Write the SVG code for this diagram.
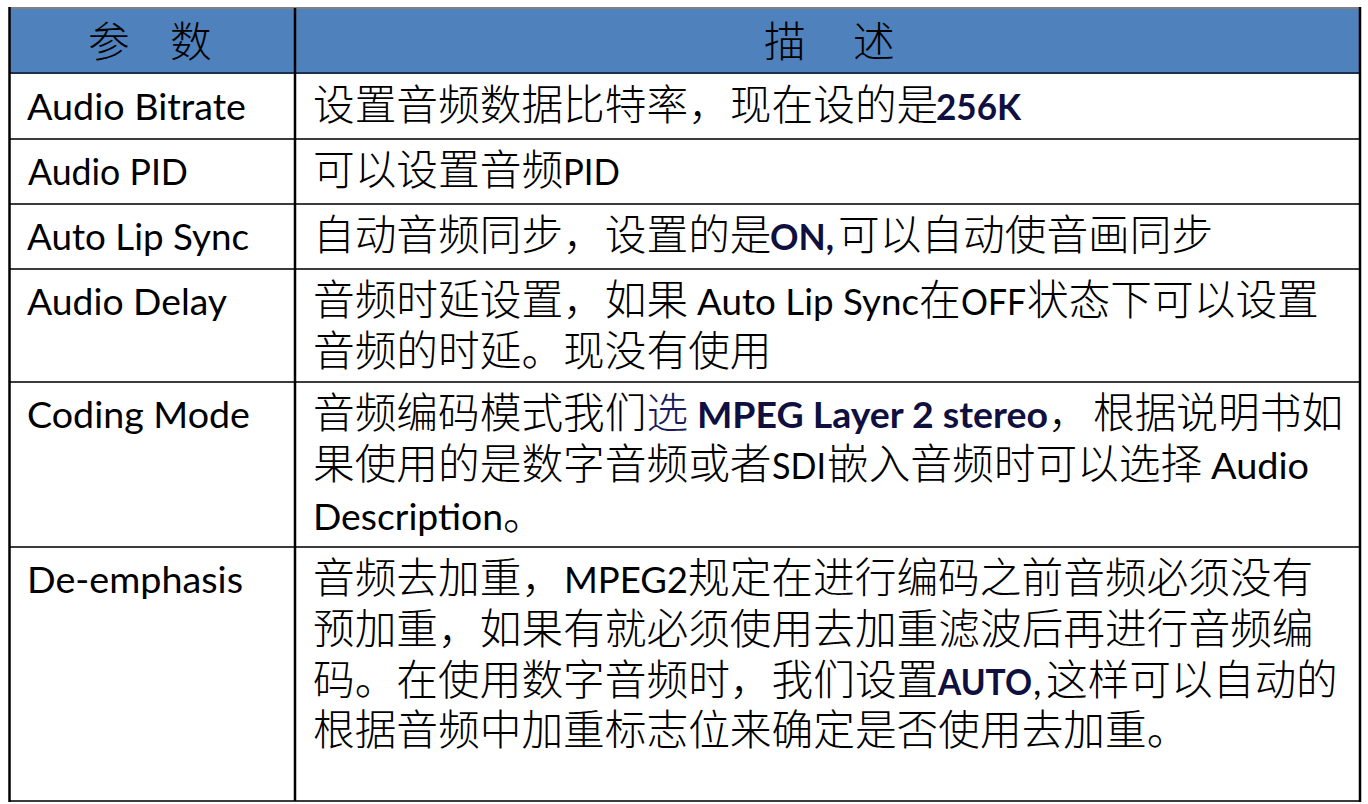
<svg xmlns="http://www.w3.org/2000/svg" width="1368" height="804" viewBox="0 0 1368 804">
<style>
.cjk{font-family:"Noto Sans CJK SC","Noto Sans CJK TC",sans-serif;font-size:41.7px;font-weight:300;fill:#000}
.lat{font-family:Lato,"Liberation Sans","Noto Sans CJK SC",sans-serif;font-size:37px;font-weight:400;fill:#000}
.b{font-weight:700;fill:#0F0F40}
.navy{fill:#1A1A5A}
.h{stroke:#3c3c3c;stroke-width:2}
.v{stroke:#000;stroke-width:2.5}
</style>
<rect width="1368" height="804" fill="#fff"/>
<g id="header">
  <rect x="9" y="8" width="1351" height="65" fill="#4F81BD"/>
  <text class="cjk" y="57"><tspan x="88">参</tspan> <tspan x="170">数</tspan></text>
  <text class="cjk" y="57"><tspan x="764">描</tspan> <tspan x="853">述</tspan></text>
</g>
<g id="row-audio-bitrate">
  <text class="lat" x="27" y="120" textLength="219" lengthAdjust="spacingAndGlyphs">Audio Bitrate</text>
  <text class="cjk" y="120"><tspan x="313">设置音频数据比特率，现在设的是</tspan><tspan x="936" class="lat b" textLength="85" lengthAdjust="spacingAndGlyphs">256K</tspan></text>
</g>
<g id="row-audio-pid">
  <text class="lat" x="28" y="185" textLength="160" lengthAdjust="spacingAndGlyphs">Audio PID</text>
  <text class="cjk" y="185"><tspan x="313">可以设置音频</tspan><tspan x="563" class="lat" textLength="57" lengthAdjust="spacingAndGlyphs">PID</tspan></text>
</g>
<g id="row-auto-lip-sync">
  <text class="lat" x="27" y="250" textLength="222" lengthAdjust="spacingAndGlyphs">Auto Lip Sync</text>
  <text class="cjk" y="250"><tspan x="313">自动音频同步，设置的是</tspan><tspan x="770" class="lat b" textLength="64" lengthAdjust="spacingAndGlyphs">ON,</tspan><tspan x="838">可以自动使音画同步</tspan></text>
</g>
<g id="row-audio-delay">
  <text class="lat" x="27" y="315" textLength="200" lengthAdjust="spacingAndGlyphs">Audio Delay</text>
  <text class="cjk"><tspan x="313" y="315">音频时延设置，如果</tspan> <tspan x="697" class="lat" textLength="222" lengthAdjust="spacingAndGlyphs">Auto Lip Sync</tspan><tspan x="919">在</tspan><tspan x="961" class="lat" textLength="65" lengthAdjust="spacingAndGlyphs">OFF</tspan><tspan x="1027">状态下可以设置</tspan><tspan x="313" y="366">音频的时延。现没有使用</tspan></text>
</g>
<g id="row-coding-mode">
  <text class="lat" x="27" y="428" textLength="223" lengthAdjust="spacingAndGlyphs">Coding Mode</text>
  <text class="cjk"><tspan x="313" y="428">音频编码模式我们</tspan><tspan x="646.6" class="navy">选</tspan> <tspan x="697" class="lat b" textLength="351" lengthAdjust="spacingAndGlyphs">MPEG Layer 2 stereo</tspan><tspan x="1048">，</tspan> <tspan x="1093">根据说明书如</tspan><tspan x="313" y="479">果使用的是数字音频或者</tspan><tspan x="772" class="lat" textLength="54" lengthAdjust="spacingAndGlyphs">SDI</tspan><tspan x="827">嵌入音频时可以选择</tspan> <tspan x="1211" class="lat" textLength="98" lengthAdjust="spacingAndGlyphs">Audio</tspan><tspan x="313" y="530" class="lat" textLength="190" lengthAdjust="spacingAndGlyphs">Description</tspan><tspan x="503">。</tspan></text>
</g>
<g id="row-de-emphasis">
  <text class="lat" x="27" y="593" textLength="216" lengthAdjust="spacingAndGlyphs">De-emphasis</text>
  <text class="cjk"><tspan x="313" y="593">音频去加重，</tspan><tspan x="564" class="lat" textLength="124" lengthAdjust="spacingAndGlyphs">MPEG2</tspan><tspan x="688">规定在进行编码之前音频必须没有</tspan><tspan x="313" y="644">预加重，如果有就必须使用去加重滤波后再进行音频编</tspan><tspan x="313" y="695">码。在使用数字音频时，我们设置</tspan><tspan x="938" class="lat b" textLength="94" lengthAdjust="spacingAndGlyphs">AUTO</tspan><tspan x="1033" class="lat">,</tspan><tspan x="1046">这样可以自动的</tspan><tspan x="313" y="745">根据音频中加重标志位来确定是否使用去加重。</tspan></text>
</g>
<g id="grid" fill="none">
  <line x1="9" y1="8" x2="1360" y2="8" stroke="#808080" stroke-width="2"/>
  <line class="h" x1="9" y1="73" x2="1360" y2="73" style="stroke:#1F2F4F"/>
  <line class="h" x1="9" y1="139" x2="1360" y2="139"/>
  <line class="h" x1="9" y1="204" x2="1360" y2="204"/>
  <line class="h" x1="9" y1="269" x2="1360" y2="269"/>
  <line class="h" x1="9" y1="382" x2="1360" y2="382"/>
  <line class="h" x1="9" y1="547" x2="1360" y2="547"/>
  <line class="h" x1="9" y1="801" x2="1360" y2="801"/>
  <line class="v" x1="9.5" y1="7" x2="9.5" y2="802"/>
  <line class="v" x1="295" y1="8" x2="295" y2="801"/>
  <line class="v" x1="1360" y1="7" x2="1360" y2="802"/>
</g>
</svg>
